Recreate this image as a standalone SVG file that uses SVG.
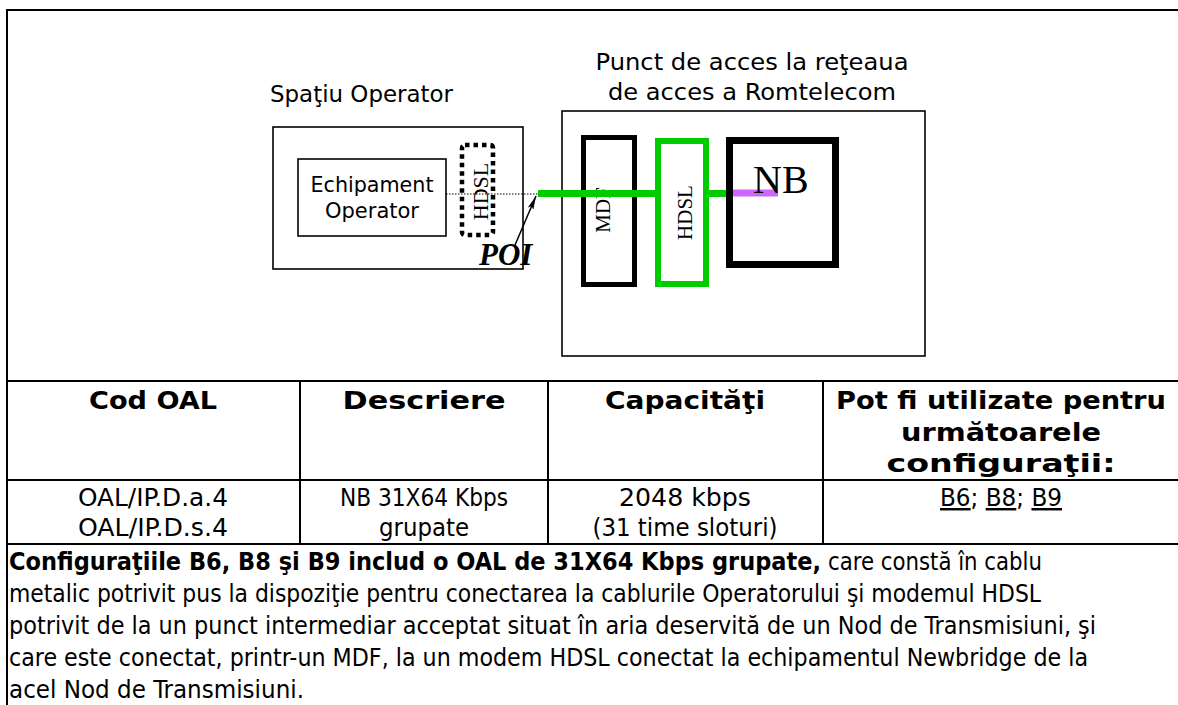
<svg xmlns="http://www.w3.org/2000/svg" width="1178" height="705" viewBox="0 0 1178 705">
<defs>
<marker id="ah" viewBox="0 0 14 6" refX="14" refY="3" markerWidth="14" markerHeight="6" markerUnits="userSpaceOnUse" orient="auto"><path d="M0,0 L14,3 L0,6 L3,3 z" fill="#000"/></marker>
<style>
.sans{font-family:'DejaVu Sans',Verdana,sans-serif;fill:#000}
.t{font-family:'DejaVu Sans Condensed','DejaVu Sans',sans-serif;font-size:25.5px;fill:#000}
.p{font-family:'DejaVu Sans Condensed','DejaVu Sans',sans-serif;font-size:24.5px;fill:#000}
.b{font-weight:bold}
.serif{font-family:'Liberation Serif','Times New Roman',serif;fill:#000}
.frame{fill:none;stroke:#000;stroke-width:2}
.box{fill:none;stroke:#000;stroke-width:1.6}
.u{text-decoration:underline}
</style>
</defs>
<rect width="1178" height="705" fill="#fff"/>
<path d="M7,705 V10 H1178" class="frame"/>

<g id="spatiu-operator">
<rect x="273" y="127" width="250" height="142" class="box"/>
<text x="270" y="102" class="sans" font-size="23.5" textLength="183" lengthAdjust="spacingAndGlyphs">Spaţiu Operator</text>
</g>
<g id="echipament-operator">
<rect x="298" y="159" width="148" height="77" class="box"/>
<text x="372" y="192" class="sans" font-size="21" text-anchor="middle" textLength="123" lengthAdjust="spacingAndGlyphs">Echipament</text>
<text x="372" y="218" class="sans" font-size="21" text-anchor="middle" textLength="94" lengthAdjust="spacingAndGlyphs">Operator</text>
</g>
<g id="hdsl-operator">
<rect x="462" y="145" width="31" height="90" rx="3" fill="none" stroke="#000" stroke-width="4.5" stroke-dasharray="4.5 4"/>
<text transform="translate(488,191.5) rotate(-90)" text-anchor="middle" class="serif" font-size="22">HDSL</text>
</g>

<g id="punct-acces">
<rect x="562" y="111" width="363" height="245" class="box"/>
<text x="752" y="70" text-anchor="middle" class="sans" font-size="23.5" textLength="313" lengthAdjust="spacingAndGlyphs">Punct de acces la reţeaua</text>
<text x="752" y="100" text-anchor="middle" class="sans" font-size="23.5" textLength="288" lengthAdjust="spacingAndGlyphs">de acces a Romtelecom</text>
</g>
<g id="mdf">
<rect x="583.5" y="137.5" width="51" height="147" fill="none" stroke="#000" stroke-width="5"/>
<text transform="translate(610,210) rotate(-90)" text-anchor="middle" class="serif" font-size="21">MDF</text>
</g>
<g id="hdsl-romtelecom">
<rect x="658" y="141" width="48" height="143" fill="none" stroke="#00cc00" stroke-width="6"/>
<text transform="translate(692,212.5) rotate(-90)" text-anchor="middle" class="serif" font-size="21">HDSL</text>
</g>

<g id="connectors">
<line x1="446" y1="194" x2="538" y2="194" stroke="#000" stroke-width="1.2" stroke-dasharray="1.5 1.5"/>
<line x1="538" y1="193.5" x2="658" y2="193.5" stroke="#00cc00" stroke-width="7"/>
<line x1="706" y1="193.5" x2="730" y2="193.5" stroke="#00cc00" stroke-width="7"/>
<line x1="730" y1="193" x2="778" y2="193" stroke="#cc66ff" stroke-width="7"/>
<line x1="515" y1="245" x2="536" y2="196" stroke="#000" stroke-width="1.5" marker-end="url(#ah)"/>
</g>

<g id="nb">
<rect x="729.5" y="140.5" width="106" height="124" fill="none" stroke="#000" stroke-width="7"/>
<text x="753" y="193" class="serif" font-size="40">NB</text>
</g>
<g id="poi">
<text x="479" y="265" class="serif" font-weight="bold" font-style="italic" font-size="31">POI</text>
</g>

<g id="table">
<path d="M7,381 H1178 M7,480 H1178 M7,544 H1178 M300,381 V544 M548,381 V544 M823,381 V544" class="frame"/>
<text class="t b" x="153" y="409" text-anchor="middle" textLength="128" lengthAdjust="spacingAndGlyphs">Cod OAL</text>
<text class="t b" x="424" y="409" text-anchor="middle" textLength="163" lengthAdjust="spacingAndGlyphs">Descriere</text>
<text class="t b" x="685" y="409" text-anchor="middle" textLength="160" lengthAdjust="spacingAndGlyphs">Capacităţi</text>
<text class="t b" x="1001" y="409" text-anchor="middle" textLength="330" lengthAdjust="spacingAndGlyphs">Pot fi utilizate pentru</text>
<text class="t b" x="1001" y="441" text-anchor="middle" textLength="200" lengthAdjust="spacingAndGlyphs">următoarele</text>
<text class="t b" x="1001" y="472" text-anchor="middle" textLength="229" lengthAdjust="spacingAndGlyphs">configuraţii:</text>
<text class="p" x="153" y="506" text-anchor="middle" textLength="150" lengthAdjust="spacingAndGlyphs">OAL/IP.D.a.4</text>
<text class="p" x="153" y="536" text-anchor="middle" textLength="150" lengthAdjust="spacingAndGlyphs">OAL/IP.D.s.4</text>
<text class="p" x="424" y="506" text-anchor="middle" textLength="168" lengthAdjust="spacingAndGlyphs">NB 31X64 Kbps</text>
<text class="p" x="424" y="536" text-anchor="middle" textLength="90" lengthAdjust="spacingAndGlyphs">grupate</text>
<text class="p" x="685" y="506" text-anchor="middle" textLength="132" lengthAdjust="spacingAndGlyphs">2048 kbps</text>
<text class="p" x="685" y="536" text-anchor="middle" textLength="185" lengthAdjust="spacingAndGlyphs">(31 time sloturi)</text>
<text class="p" x="1001" y="506" text-anchor="middle" textLength="122" lengthAdjust="spacingAndGlyphs"><tspan class="u">B6</tspan>; <tspan class="u">B8</tspan>; <tspan class="u">B9</tspan></text>
</g>

<g id="paragraph">
<text class="p b" x="9" y="570" textLength="812" lengthAdjust="spacingAndGlyphs">Configuraţiile B6, B8 şi B9 includ o OAL de 31X64 Kbps grupate,</text>
<text class="p" x="828" y="570" textLength="214" lengthAdjust="spacingAndGlyphs">care constă în cablu</text>
<text class="p" x="9" y="602" textLength="1032" lengthAdjust="spacingAndGlyphs">metalic potrivit pus la dispoziţie pentru conectarea la cablurile Operatorului şi modemul HDSL</text>
<text class="p" x="9" y="634" textLength="1087" lengthAdjust="spacingAndGlyphs">potrivit de la un punct intermediar acceptat situat în aria deservită de un Nod de Transmisiuni, şi</text>
<text class="p" x="9" y="666" textLength="1079" lengthAdjust="spacingAndGlyphs">care este conectat, printr-un MDF, la un modem HDSL conectat la echipamentul Newbridge de la</text>
<text class="p" x="9" y="698" textLength="295" lengthAdjust="spacingAndGlyphs">acel Nod de Transmisiuni.</text>
</g>
</svg>
